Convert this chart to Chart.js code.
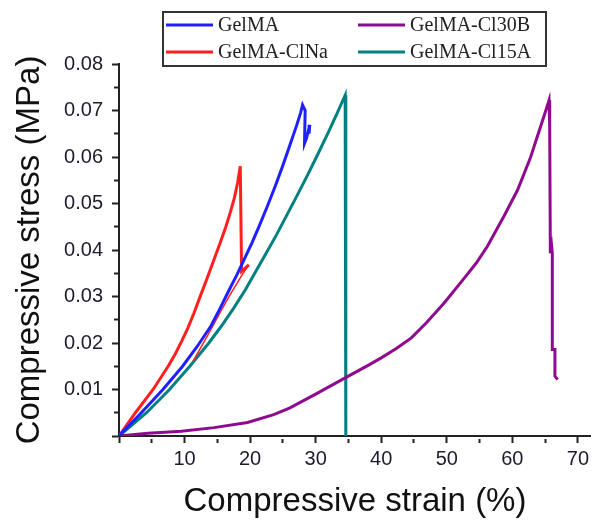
<!DOCTYPE html>
<html>
<head>
<meta charset="utf-8">
<script src="https://cdn.jsdelivr.net/npm/chart.js@4.4.1/dist/chart.umd.min.js"></script>
<style>
  body { margin: 0; background: #fff; }
  #wrap { width: 593px; height: 520px; }
</style>
</head>
<body>
<div id="wrap"><canvas id="chart" width="593" height="520"></canvas></div>
<script>
// values (strain in %, stress in MPa)
const seriesNames = ['GelMA', 'GelMA-ClNa', 'GelMA-Cl30B', 'GelMA-Cl15A'];
const seriesColors = ['#1f1fff', '#ff1f1f', '#8e0a8e', '#008080'];

const gelmaStrain = [0, 3.4, 6.7, 9.7, 11.9, 14.0, 15.4, 16.8, 18.0, 19.1, 20.3, 21.4, 22.6, 23.8, 25.0, 26.1, 27.1, 27.7, 28.0, 28.4, 28.3, 28.6, 29.1, 29.0];
const gelmaStress = [0, 0.005, 0.010, 0.015, 0.0192, 0.0236, 0.0274, 0.0314, 0.0347, 0.0380, 0.0416, 0.0452, 0.0493, 0.0536, 0.0582, 0.0627, 0.0668, 0.0695, 0.0712, 0.0700, 0.0629, 0.0640, 0.0669, 0.0650];

const clnaStrain = [0, 2.5, 5.2, 7.5, 8.6, 9.6, 10.5, 11.4, 12.3, 13.3, 14.3, 15.3, 16.3, 17.0, 17.6, 18.1, 18.5, 18.7, 19.8, 18.8, 17.0, 15.6, 14.3, 12.8, 11.3];
const clnaStress = [0, 0.005, 0.010, 0.015, 0.0177, 0.0205, 0.0232, 0.0263, 0.0297, 0.0334, 0.0372, 0.0410, 0.0450, 0.0482, 0.0512, 0.0545, 0.0580, 0.0354, 0.0368, 0.0347, 0.0305, 0.0270, 0.0236, 0.0198, 0.0161];

const cl30bStrain = [0, 4.4, 9.5, 14.5, 19.6, 23.6, 26.0, 30.0, 34.5, 38.0, 40.0, 42.3, 44.6, 47.0, 49.6, 52.7, 54.5, 56.2, 58.7, 60.8, 62.8, 64.3, 65.0, 65.6, 65.7, 65.8, 66.0, 66.1, 66.1, 66.5, 66.5, 66.9];
const cl30bStress = [0, 0.0006, 0.0010, 0.0018, 0.0029, 0.0046, 0.0060, 0.0090, 0.0125, 0.0152, 0.0168, 0.0188, 0.0211, 0.0245, 0.0286, 0.0340, 0.0372, 0.0408, 0.0472, 0.0529, 0.0600, 0.0665, 0.0695, 0.0722, 0.0665, 0.0393, 0.0408, 0.0393, 0.0186, 0.0186, 0.0129, 0.0121];

const cl15aStrain = [0, 4.2, 7.7, 10.8, 13.7, 15.6, 17.5, 19.3, 20.9, 22.4, 24.0, 25.6, 27.2, 28.8, 30.4, 32.0, 33.3, 34.5, 34.6];
const cl15aStress = [0, 0.005, 0.010, 0.015, 0.020, 0.0236, 0.0275, 0.0315, 0.0355, 0.0392, 0.0432, 0.0475, 0.0518, 0.0562, 0.0608, 0.0655, 0.0695, 0.0733, 0];

// where the thin unloading trace of GelMA-ClNa starts
const clnaThinFrom = 18;

function pairs(xs, ys) {
  return xs.map((x, i) => ({ x: x, y: ys[i] }));
}

const seriesData = [
  pairs(gelmaStrain, gelmaStress),
  pairs(clnaStrain, clnaStress),
  pairs(cl30bStrain, cl30bStress),
  pairs(cl15aStrain, cl15aStress)
];

// legend in a box, two columns like the original
const boxLegend = {
  id: 'boxLegend',
  afterDraw(chart) {
    const ctx = chart.ctx;
    ctx.save();
    ctx.fillStyle = '#fff';
    ctx.fillRect(163, 12, 383, 54);
    ctx.strokeStyle = '#333';
    ctx.lineWidth = 2;
    ctx.strokeRect(163, 12, 383, 54);
    const slots = [
      { lx: 166, tx: 218, y: 25 },
      { lx: 166, tx: 218, y: 52 },
      { lx: 358, tx: 410, y: 25 },
      { lx: 358, tx: 410, y: 52 }
    ];
    chart.data.datasets.forEach((ds, i) => {
      const s = slots[i];
      ctx.strokeStyle = ds.borderColor;
      ctx.lineWidth = 3;
      ctx.beginPath();
      ctx.moveTo(s.lx, s.y);
      ctx.lineTo(s.lx + 47, s.y);
      ctx.stroke();
      ctx.fillStyle = '#222';
      ctx.font = '20px "Liberation Serif", "DejaVu Serif", serif';
      ctx.textBaseline = 'middle';
      ctx.fillText(ds.label, s.tx, s.y + 1);
    });
    ctx.restore();
  }
};

const tickFont = { family: '"Liberation Sans", Arial, sans-serif', size: 20 };
const titleFont = { family: '"Liberation Sans", Arial, sans-serif', size: 33, lineHeight: 1.1 };

new Chart(document.getElementById('chart').getContext('2d'), {
  type: 'scatter',
  data: {
    datasets: seriesData.map((d, i) => ({
      label: seriesNames[i],
      data: d,
      showLine: true,
      borderColor: seriesColors[i],
      backgroundColor: seriesColors[i],
      borderWidth: 3,
      pointRadius: 0,
      tension: 0,
      segment: i === 1 ? {
        borderWidth: c => c.p0DataIndex >= clnaThinFrom ? 1.5 : 3
      } : undefined
    }))
  },
  options: {
    responsive: false,
    animation: false,
    layout: { padding: { top: 64, left: 0, right: 0, bottom: 0 } },
    plugins: { legend: { display: false }, tooltip: { enabled: false } },
    scales: {
      x: {
        type: 'linear',
        min: 0,
        max: 72,
        border: { color: '#222', width: 2 },
        grid: {
          drawOnChartArea: false,
          tickLength: 7,
          tickWidth: 2,
          tickColor: '#222',
          tickBorderDash: c => (c.tick && Math.round(c.tick.value) % 10 !== 0) ? [5, 2] : [],
          tickBorderDashOffset: c => (c.tick && Math.round(c.tick.value) % 10 !== 0) ? 5 : 0
        },
        ticks: {
          stepSize: 5,
          includeBounds: false,
          autoSkip: false,
          maxRotation: 0,
          padding: 4,
          color: '#1c1c2c',
          font: tickFont,
          callback: v => (v !== 0 && Math.round(v) % 10 === 0) ? String(v) : ''
        },
        title: {
          display: true,
          text: 'Compressive strain (%)',
          color: '#111',
          font: titleFont,
          padding: { top: 0, bottom: 0 }
        },
        afterFit: s => { s.height = 84; }
      },
      y: {
        type: 'linear',
        min: 0,
        max: 0.08,
        border: { color: '#222', width: 2 },
        grid: {
          drawOnChartArea: false,
          tickLength: 7,
          tickWidth: 2,
          tickColor: '#222',
          tickBorderDash: c => (c.tick && Math.round(c.tick.value * 1000) % 10 !== 0) ? [5, 2] : [],
          tickBorderDashOffset: c => (c.tick && Math.round(c.tick.value * 1000) % 10 !== 0) ? 5 : 0
        },
        ticks: {
          stepSize: 0.005,
          includeBounds: false,
          autoSkip: false,
          padding: 9,
          color: '#1c1c2c',
          font: tickFont,
          callback: v => {
            const m = Math.round(v * 1000);
            return (m !== 0 && m % 10 === 0) ? v.toFixed(2) : '';
          }
        },
        title: {
          display: true,
          text: 'Compressive stress (MPa)',
          color: '#111',
          font: titleFont,
          padding: { top: 12, bottom: 0 }
        },
        afterFit: s => { s.width = 119; }
      }
    }
  },
  plugins: [boxLegend]
});
</script>
</body>
</html>
